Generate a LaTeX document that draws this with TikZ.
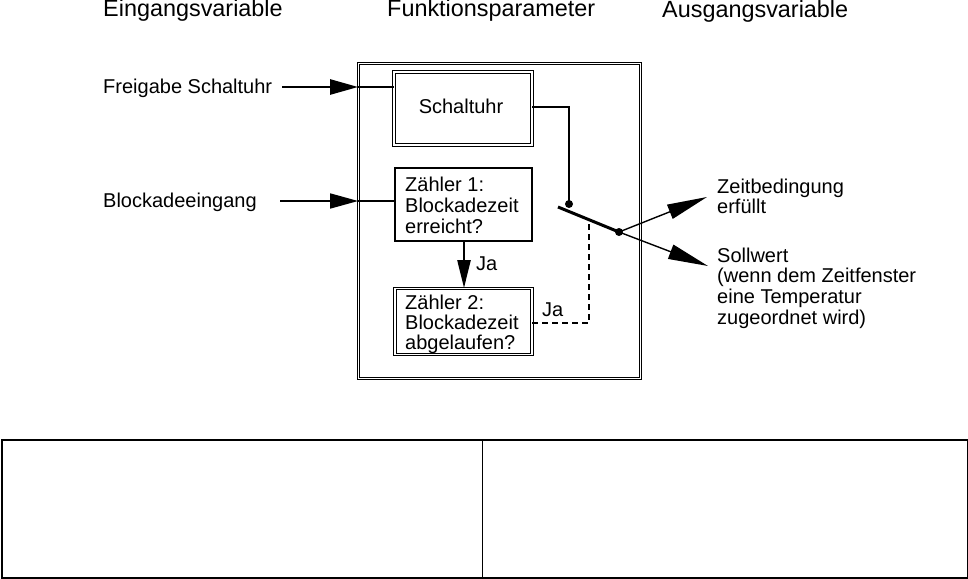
\documentclass[tikz,border=0pt]{standalone}
\usepackage{fontspec}
\setmainfont{Liberation Sans}
\usetikzlibrary{arrows.meta,calc}
\begin{document}
\begin{tikzpicture}[x=1pt,y=-1pt,
  txt/.style={inner sep=0pt,anchor=base west,align=left,font=\fontsize{20}{20.8}\selectfont},
  ttl/.style={inner sep=0pt,anchor=base west,font=\fontsize{23.4}{24}\selectfont},
  dbox/.style={draw,double,double distance=1.6pt,line width=0.8pt,inner sep=0pt},
  tbox/.style={draw,line width=2.2pt,inner sep=0pt},
  inarrow/.style={-{Triangle[length=28pt,width=15pt]}},
  outarrow/.style={line width=1.4pt,-{Triangle[length=40pt,width=15pt]}},
  dot/.style={circle,fill=black,inner sep=0pt,minimum size=8pt}
]
\useasboundingbox (0,0) rectangle (968,578);

% titles
\node[ttl] (t1) at (103,17) {Eingangsvariable};
\node[ttl] (t2) at (387,17) {Funktionsparameter};
\node[ttl] (t3) at (662,18) {Ausgangsvariable};

% boxes
\node[dbox,minimum width=282pt,minimum height=315pt] (outer) at (499.5,221) {};
\node[dbox,minimum width=138pt,minimum height=73pt] (schalt) at (463,108.5) {};
\node[tbox,minimum width=137pt,minimum height=73pt] (z1) at (463.5,204.5) {};
\node[dbox,minimum width=137pt,minimum height=66pt] (z2) at (463.5,321.5) {};

% box texts (base = baseline of last line)
\node[txt,anchor=base] (schaltT) at (461,113) {Schaltuhr};
\node[txt] (z1T) at (405,233) {Zähler 1:\\Blockadezeit\\erreicht?};
\node[txt,font=\fontsize{20}{19.6}\selectfont] (z2T) at (405,349) {Zähler 2:\\Blockadezeit\\abgelaufen?};

% input labels
\node[txt] (freig) at (103,93) {Freigabe Schaltuhr};
\node[txt] (block) at (103,207) {Blockadeeingang};
\coordinate (fin) at (282,87);
\coordinate (bin) at (280,201);
\draw[line width=2.6pt,inarrow] (fin) -- (fin -| outer.west);
\draw[line width=2.6pt] (fin -| outer.west) -- (fin -| schalt.west);
\draw[line width=1.7pt,inarrow] (bin) -- (bin -| outer.west);
\draw[line width=1.7pt] (bin -| outer.west) -- (bin -| z1.west);

% Zähler 1 -> Zähler 2
\draw[line width=2.4pt,-{Triangle[length=28pt,width=13pt]}] (z1.south -| 464,0) -- (z2.north -| 464,0);
\node[txt] (ja1) at (476,270) {Ja};

% switch
\coordinate (ls) at (558,207);
\coordinate (le) at (619,232);
\node[dot] (d1) at (569,204) {};
\draw[line width=1.3pt] (schalt.east |- 0,107) -- (569,107) -- (d1.center);
\draw[line width=3pt] (ls) -- (le);
\node[dot] (piv) at (le) {};
\coordinate (dj) at ($(ls)!0.508!(le)$);
\draw[line width=2.4pt,dash pattern=on 6pt off 4pt] (z2.east |- 0,323) -| (dj);
\node[txt] (ja2) at (542,316) {Ja};

% outputs
\coordinate (o1) at (707,197);
\coordinate (o2) at (708,266);
\draw[outarrow] (piv.center) -- (o1);
\draw[outarrow] (piv.center) -- (o2);
\node[txt] (zb) at (717,213.8) {Zeitbedingung\\erfüllt};
\node[txt] (sw) at (717,324.4) {Sollwert\\(wenn dem Zeitfenster\\eine Temperatur\\zugeordnet wird)};

% bottom table
\node[draw,line width=1.6pt,inner sep=0pt,minimum width=966pt,minimum height=138pt,anchor=north west] (tab) at (1,439) {};
\coordinate (mid) at (482,439);
\draw[line width=1pt] (mid) -- (mid |- tab.south);
\end{tikzpicture}
\end{document}
